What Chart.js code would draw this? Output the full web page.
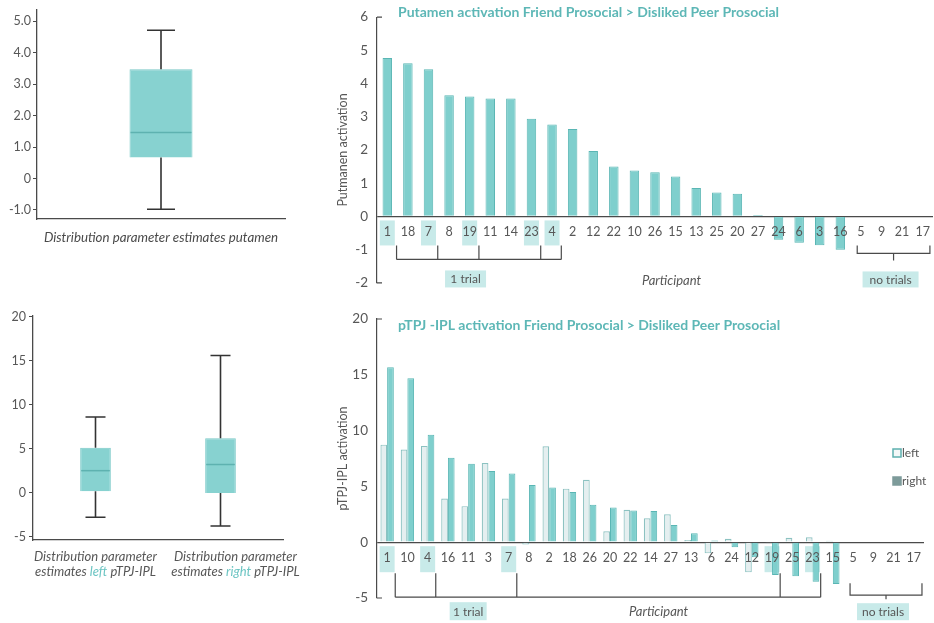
<!DOCTYPE html>
<html>
<head>
<meta charset="utf-8">
<script src="https://cdn.jsdelivr.net/npm/chart.js@4.4.1/dist/chart.umd.min.js"></script>
<style>
  html, body { margin: 0; padding: 0; background: #ffffff; }
  body { width: 934px; height: 623px; position: relative; overflow: hidden; }
  canvas { position: absolute; }
</style>
</head>
<body>
<canvas id="boxPut" width="330" height="250" style="left:0;top:0"></canvas>
<canvas id="barPut" width="604" height="300" style="left:330px;top:0"></canvas>
<canvas id="boxTpj" width="330" height="323" style="left:0;top:300px"></canvas>
<canvas id="barTpj" width="604" height="323" style="left:330px;top:300px"></canvas>
<script>
// ---- Putamen: Friend Prosocial > Disliked Peer Prosocial, participants sorted by activation
const putamenParticipants = ['1','18','7','8','19','11','14','23','4','2','12','22','10','26','15','13','25','20','27','24','6','3','16','5','9','21','17'];
const putamenActivation = [4.77,4.61,4.43,3.65,3.61,3.55,3.55,2.94,2.77,2.63,1.97,1.5,1.38,1.33,1.2,0.86,0.72,0.68,0.04,-0.7,-0.79,-0.87,-1.0,null,null,null,null];
const putamenTicks = [-2,-1,0,1,2,3,4,5,6];

// ---- pTPJ-IPL: left and right hemisphere activation per participant
const tpjParticipants = ['1','10','4','16','11','3','7','8','2','18','26','20','22','14','27','13','6','24','12','19','25','23','15','5','9','21','17'];
const tpjLeft  = [8.74,8.3,8.63,3.91,3.23,7.1,3.91,-0.2,8.6,4.8,5.6,0.97,2.9,2.15,2.5,0.2,-1.0,0.3,-2.7,-0.1,0.4,0.45,0.12,null,null,null,null];
const tpjRight = [15.68,14.7,9.63,7.57,7.04,6.39,6.15,5.12,4.91,4.5,3.35,3.1,2.85,2.8,1.55,0.8,0.15,-0.45,-1.35,-2.95,-3.05,-3.55,-3.75,null,null,null,null];
const tpjTicks = [-5,0,5,10,15,20];

// participants with a single usable trial / with no trials
const oneTrialParticipants = ['1','7','19','23','4'];
const noTrialParticipants = ['5','9','21','17'];

// ---- distribution summaries: lower whisker, Q1, median, Q3, upper whisker
const putBoxCategories = ['putamen'];
const putBoxMin = [-0.98];
const putBoxQ1 = [0.67];
const putBoxMedian = [1.46];
const putBoxQ3 = [3.48];
const putBoxMax = [4.72];
const putBoxTicks = [-1,0,1,2,3,4,5];
const putBoxTickLabels = ['-1.0','0','1.0','2.0','3.0','4.0','5.0'];

const tpjBoxCategories = ['left','right'];
const tpjBoxMin = [-2.8,-3.8];
const tpjBoxQ1 = [0.15,-0.05];
const tpjBoxMedian = [2.5,3.2];
const tpjBoxQ3 = [5.1,6.2];
const tpjBoxMax = [8.6,15.6];

// ---- styling
const FONT = 'Lato, "Open Sans", "DejaVu Sans", sans-serif';
const TEXT = '#575757';
const AXIS = '#4a4a4a';
const TEAL = '#7fcfcd';
const TEAL_EDGE = '#5ab6b4';
const PALE = '#e5eff0';
const PALE_EDGE = '#8cc2c1';
const TITLE = '#5db7b6';
const HIGHLIGHT = '#c8eae9';
const BOX_FILL = '#87d2d0';
const BOX_EDGE = '#7ac9c7';
const MEDIAN = '#5eb2b0';

Chart.defaults.font.family = FONT;
Chart.defaults.color = TEXT;

function font(size, style, weight) {
  return (style || 'normal') + ' ' + (weight || 'normal') + ' ' + size + 'px ' + FONT;
}

// whiskers, caps and median lines on top of floating Q1..Q3 bars
function boxWhiskers(stats, style) {
  return {
    id: 'boxWhiskers',
    afterDatasetsDraw(chart) {
      const ctx = chart.ctx;
      const y = chart.scales.y;
      const meta = chart.getDatasetMeta(0);
      ctx.save();
      meta.data.forEach((bar, i) => {
        const cx = bar.x;
        const pMax = y.getPixelForValue(stats.max[i]);
        const pMin = y.getPixelForValue(stats.min[i]);
        const pQ1 = y.getPixelForValue(stats.q1[i]);
        const pQ3 = y.getPixelForValue(stats.q3[i]);
        const pMed = y.getPixelForValue(stats.median[i]);
        ctx.strokeStyle = style.whisker;
        ctx.lineWidth = 1.6;
        ctx.beginPath();
        ctx.moveTo(cx, pQ3); ctx.lineTo(cx, pMax);
        ctx.moveTo(cx - style.cap / 2, pMax); ctx.lineTo(cx + style.cap / 2, pMax);
        ctx.moveTo(cx, pQ1); ctx.lineTo(cx, pMin);
        ctx.moveTo(cx - style.cap / 2, pMin); ctx.lineTo(cx + style.cap / 2, pMin);
        ctx.stroke();
        ctx.strokeStyle = style.median;
        ctx.lineWidth = 1.5;
        ctx.beginPath();
        ctx.moveTo(cx - bar.width / 2 + 1, pMed); ctx.lineTo(cx + bar.width / 2 - 1, pMed);
        ctx.stroke();
      });
      ctx.restore();
    }
  };
}

// two-line category captions with the hemisphere word in teal
function hemisphereCaptions(words, layout) {
  return {
    id: 'hemisphereCaptions',
    afterDraw(chart) {
      const ctx = chart.ctx;
      const x = chart.scales.x;
      ctx.save();
      ctx.font = font(layout.size, 'italic');
      ctx.textBaseline = 'middle';
      words.forEach((w, i) => {
        const cx = x.getPixelForValue(i) + layout.shift[i];
        ctx.textAlign = 'center';
        ctx.fillStyle = TEXT;
        ctx.fillText('Distribution parameter', cx, layout.line1);
        const parts = [['estimates ', TEXT], [w, layout.accent], [' pTPJ-IPL', TEXT]];
        const total = parts.reduce((s, p) => s + ctx.measureText(p[0]).width, 0);
        let px = cx - total / 2;
        ctx.textAlign = 'left';
        parts.forEach(p => {
          ctx.fillStyle = p[1];
          ctx.fillText(p[0], px, layout.line2);
          px += ctx.measureText(p[0]).width;
        });
      });
      ctx.restore();
    }
  };
}

// participant labels under the zero line, trial brackets, tags, axis name and title
function participantAxis(cfg) {
  function tag(ctx, text, cx, top, w, h) {
    ctx.fillStyle = HIGHLIGHT;
    ctx.fillRect(cx - w / 2, top, w, h);
    ctx.fillStyle = TEXT;
    ctx.textAlign = 'center';
    ctx.textBaseline = 'middle';
    ctx.fillText(text, cx, top + h / 2 + 0.5);
  }
  return {
    id: 'participantAxis',
    beforeDatasetsDraw(chart) {
      const ctx = chart.ctx;
      const x = chart.scales.x;
      const y0 = chart.scales.y.getPixelForValue(0);
      ctx.save();
      ctx.fillStyle = HIGHLIGHT;
      chart.data.labels.forEach((lab, i) => {
        if (oneTrialParticipants.includes(lab)) {
          const px = x.getPixelForValue(i);
          ctx.fillRect(px - cfg.hlWidth / 2, y0 + cfg.hlTop, cfg.hlWidth, cfg.hlHeight);
        }
      });
      ctx.restore();
    },
    afterDatasetsDraw(chart) {
      const ctx = chart.ctx;
      const area = chart.chartArea;
      const x = chart.scales.x;
      const y0 = chart.scales.y.getPixelForValue(0);
      const labels = chart.data.labels;
      ctx.save();

      // axis end caps
      ctx.strokeStyle = AXIS;
      ctx.lineWidth = 1.2;
      ctx.beginPath();
      ctx.moveTo(area.left, area.top); ctx.lineTo(area.left + 5, area.top);
      ctx.moveTo(area.left, area.bottom); ctx.lineTo(area.left + 5, area.bottom);
      ctx.stroke();

      // participant numbers
      ctx.font = font(12.5);
      ctx.fillStyle = TEXT;
      ctx.textAlign = 'center';
      ctx.textBaseline = 'middle';
      labels.forEach((lab, i) => ctx.fillText(lab, x.getPixelForValue(i), y0 + cfg.labelOffset));

      // bracket joining the single-trial participants
      const single = oneTrialParticipants.map(p => labels.indexOf(p)).sort((a, b) => a - b);
      const xs = single.map(i => x.getPixelForValue(i + cfg.trialShift));
      ctx.beginPath();
      ctx.moveTo(xs[0], y0 + cfg.trialBottom);
      ctx.lineTo(xs[xs.length - 1], y0 + cfg.trialBottom);
      xs.forEach(px => { ctx.moveTo(px, y0 + cfg.trialTop); ctx.lineTo(px, y0 + cfg.trialBottom); });
      ctx.stroke();
      ctx.font = font(12);
      tag(ctx, '1 trial', x.getPixelForValue(cfg.trialTagAt), y0 + cfg.trialTagTop, cfg.trialTagW, cfg.trialTagH);

      // brace over the participants without trials
      const none = noTrialParticipants.map(p => labels.indexOf(p)).sort((a, b) => a - b);
      const nx0 = x.getPixelForValue(none[0] + cfg.noneFrom);
      const nx1 = x.getPixelForValue(none[none.length - 1] + cfg.noneTo);
      const nmid = (nx0 + nx1) / 2;
      ctx.strokeStyle = AXIS;
      ctx.beginPath();
      ctx.moveTo(nx0, y0 + cfg.noneTop); ctx.lineTo(nx0, y0 + cfg.noneBottom);
      ctx.lineTo(nx1, y0 + cfg.noneBottom); ctx.lineTo(nx1, y0 + cfg.noneTop);
      ctx.moveTo(nmid, y0 + cfg.noneBottom); ctx.lineTo(nmid, y0 + cfg.noneMid);
      ctx.stroke();
      tag(ctx, 'no trials', nmid - 3, y0 + cfg.noneTagTop, cfg.noneTagW, cfg.noneTagH);

      // axis name
      ctx.font = font(13, 'italic');
      ctx.fillStyle = TEXT;
      ctx.fillText('Participant', x.getPixelForValue(cfg.participantAt), y0 + cfg.participantY);

      // chart title
      ctx.font = font(cfg.titleSize, 'normal', 'bold');
      ctx.fillStyle = TITLE;
      ctx.textAlign = 'left';
      ctx.fillText(cfg.title, area.left + cfg.titleDx, cfg.titleY);
      ctx.restore();
    }
  };
}

// legend swatches for the two hemispheres
function hemisphereKey(cfg) {
  return {
    id: 'hemisphereKey',
    afterDraw(chart) {
      const ctx = chart.ctx;
      ctx.save();
      ctx.font = font(12);
      ctx.textAlign = 'left';
      ctx.textBaseline = 'middle';
      chart.data.datasets.forEach((ds, i) => {
        const y = cfg.y + i * cfg.gap;
        ctx.fillStyle = cfg.fills[i];
        ctx.fillRect(cfg.x, y - 4, 8, 8);
        ctx.strokeStyle = cfg.edges[i];
        ctx.lineWidth = 1.5;
        ctx.strokeRect(cfg.x, y - 4, 8, 8);
        ctx.fillStyle = TEXT;
        ctx.fillText(ds.label, cfg.x + 9, y);
      });
      ctx.restore();
    }
  };
}

const fixedTicks = values => scale => { scale.ticks = values.map(v => ({ value: v })); };

// ---------- Putamen distribution box plot
new Chart(document.getElementById('boxPut'), {
  type: 'bar',
  data: {
    labels: putBoxCategories,
    datasets: [{
      data: putBoxCategories.map((_, i) => [putBoxQ1[i], putBoxQ3[i]]),
      backgroundColor: BOX_FILL, borderColor: BOX_EDGE, borderWidth: 1,
      categoryPercentage: 1, barPercentage: 0.254
    }]
  },
  options: {
    responsive: false, animation: false,
    layout: { padding: { top: 3, right: 45, bottom: 0, left: 0 } },
    plugins: { legend: { display: false }, tooltip: { enabled: false } },
    scales: {
      x: {
        afterFit: s => { s.height = 31; },
        grid: { display: false },
        border: { display: true, color: AXIS, width: 1.3 },
        ticks: { display: false },
        title: { display: true, text: 'Distribution parameter estimates putamen', color: '#4a4a4a',
                 font: { size: 13.3, style: 'italic' }, padding: { top: 0, bottom: 4 } }
      },
      y: {
        min: -1.29, max: 5.38,
        afterBuildTicks: fixedTicks(putBoxTicks),
        afterFit: s => { s.width = 37; },
        grid: { drawOnChartArea: false, drawTicks: true, tickLength: 4, color: AXIS },
        border: { display: true, color: AXIS, width: 1.3 },
        ticks: { padding: 2, color: TEXT, font: { size: 12.5 },
                 callback: v => putBoxTickLabels[putBoxTicks.indexOf(v)] }
      }
    }
  },
  plugins: [boxWhiskers({ min: putBoxMin, q1: putBoxQ1, median: putBoxMedian, q3: putBoxQ3, max: putBoxMax },
                        { whisker: '#333333', median: MEDIAN, cap: 28 })]
});

// ---------- Putamen activation per participant
new Chart(document.getElementById('barPut'), {
  type: 'bar',
  data: {
    labels: putamenParticipants,
    datasets: [{
      label: 'Putamen',
      data: putamenActivation,
      backgroundColor: TEAL, borderColor: TEAL_EDGE, borderWidth: 1,
      categoryPercentage: 1, barPercentage: 0.46
    }]
  },
  options: {
    responsive: false, animation: false,
    layout: { padding: { top: 3, right: 1, bottom: 10, left: 0 } },
    plugins: { legend: { display: false }, tooltip: { enabled: false } },
    scales: {
      x: { display: false },
      y: {
        min: -2, max: 6,
        afterBuildTicks: fixedTicks(putamenTicks),
        afterFit: s => { s.width = 47; },
        grid: { drawTicks: false, lineWidth: 1.2,
                color: c => (c.tick && c.tick.value === 0) ? AXIS : 'rgba(0,0,0,0)' },
        border: { display: true, color: AXIS, width: 1.2 },
        ticks: { padding: 9, color: TEXT, font: { size: 13.5 } },
        title: { display: true, text: 'Putmanen activation', color: TEXT,
                 font: { size: 12.5 }, padding: { top: 5, bottom: 0 } }
      }
    }
  },
  plugins: [participantAxis({
    labelOffset: 16, hlTop: 4, hlHeight: 25, hlWidth: 15,
    trialShift: 0.45, trialTop: 29, trialBottom: 43,
    trialTagAt: 3.8, trialTagTop: 54, trialTagW: 41, trialTagH: 17,
    noneFrom: -0.18, noneTo: 0.35, noneTop: 29, noneBottom: 37, noneMid: 44,
    noneTagTop: 55, noneTagW: 56, noneTagH: 16,
    participantAt: 13.8, participantY: 64,
    title: 'Putamen activation Friend Prosocial > Disliked Peer Prosocial',
    titleSize: 14, titleDx: 21, titleY: 12
  })]
});

// ---------- pTPJ-IPL distribution box plots
new Chart(document.getElementById('boxTpj'), {
  type: 'bar',
  data: {
    labels: tpjBoxCategories,
    datasets: [{
      data: tpjBoxCategories.map((_, i) => [tpjBoxQ1[i], tpjBoxQ3[i]]),
      backgroundColor: BOX_FILL, borderColor: BOX_EDGE, borderWidth: 1,
      categoryPercentage: 1, barPercentage: 0.245
    }]
  },
  options: {
    responsive: false, animation: false,
    layout: { padding: { top: 16, right: 47, bottom: 0, left: 0 } },
    plugins: { legend: { display: false }, tooltip: { enabled: false } },
    scales: {
      x: {
        afterFit: s => { s.height = 83; },
        grid: { display: false },
        border: { display: true, color: AXIS, width: 1.3 },
        ticks: { display: false }
      },
      y: {
        min: -5.39, max: 20.1,
        afterBuildTicks: fixedTicks(tpjTicks),
        afterFit: s => { s.width = 33; },
        grid: { drawOnChartArea: false, drawTicks: true, tickLength: 4, color: AXIS },
        border: { display: true, color: AXIS, width: 1.3 },
        ticks: { padding: 3, color: TEXT, font: { size: 12.5 } }
      }
    }
  },
  plugins: [
    boxWhiskers({ min: tpjBoxMin, q1: tpjBoxQ1, median: tpjBoxMedian, q3: tpjBoxQ3, max: tpjBoxMax },
                { whisker: '#333333', median: MEDIAN, cap: 20 }),
    hemisphereCaptions(tpjBoxCategories, { size: 13, line1: 257, line2: 272, shift: [0, 15], accent: '#6cc5c3' })
  ]
});

// ---------- pTPJ-IPL activation per participant, left vs right
new Chart(document.getElementById('barTpj'), {
  type: 'bar',
  data: {
    labels: tpjParticipants,
    datasets: [
      { label: 'left', data: tpjLeft, backgroundColor: PALE, borderColor: PALE_EDGE, borderWidth: 1.2,
        categoryPercentage: 0.66, barPercentage: 1 },
      { label: 'right', data: tpjRight, backgroundColor: TEAL, borderColor: TEAL_EDGE, borderWidth: 1,
        categoryPercentage: 0.66, barPercentage: 1 }
    ]
  },
  options: {
    responsive: false, animation: false,
    layout: { padding: { top: 19, right: 10, bottom: 25, left: 0 } },
    plugins: { legend: { display: false }, tooltip: { enabled: false } },
    scales: {
      x: { display: false },
      y: {
        min: -5, max: 20,
        afterBuildTicks: fixedTicks(tpjTicks),
        afterFit: s => { s.width = 47; },
        grid: { drawTicks: false, lineWidth: 1.2,
                color: c => (c.tick && c.tick.value === 0) ? AXIS : 'rgba(0,0,0,0)' },
        border: { display: true, color: AXIS, width: 1.2 },
        ticks: { padding: 9, color: TEXT, font: { size: 13.5 } },
        title: { display: true, text: 'pTPJ-IPL activation', color: TEXT,
                 font: { size: 12.5 }, padding: { top: 5, bottom: 0 } }
      }
    }
  },
  plugins: [
    participantAxis({
      labelOffset: 16, hlTop: 4, hlHeight: 26, hlWidth: 15,
      trialShift: 0.4, trialTop: 31, trialBottom: 55,
      trialTagAt: 4.0, trialTagTop: 60, trialTagW: 37, trialTagH: 18,
      noneFrom: -0.15, noneTo: 0.4, noneTop: 41, noneBottom: 53, noneMid: 57,
      noneTagTop: 61, noneTagW: 52, noneTagH: 17,
      participantAt: 13.4, participantY: 70,
      title: 'pTPJ -IPL activation Friend Prosocial > Disliked Peer Prosocial',
      titleSize: 14, titleDx: 21, titleY: 25
    }),
    hemisphereKey({ x: 563, y: 153, gap: 28, fills: ['#f3f8f8', '#7d9b9a'], edges: ['#5eb0af', '#7d9b9a'] })
  ]
});
</script>
</body>
</html>
